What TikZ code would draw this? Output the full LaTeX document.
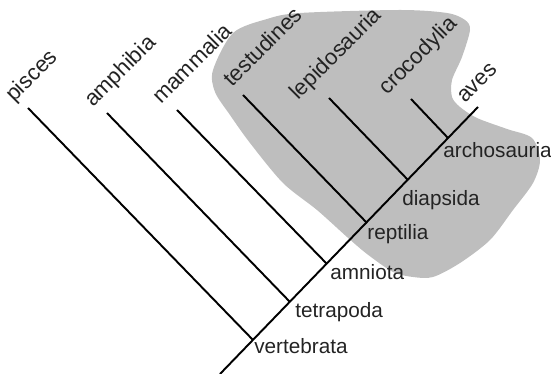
\documentclass[tikz,border=0pt]{standalone}
\usepackage{fontspec}
\setmainfont{Liberation Sans}
\usepackage{xcolor}
\usepackage{tikz}
\definecolor{blobgray}{RGB}{190,190,190}
\definecolor{labelgray}{RGB}{35,35,35}

\begin{document}
\begin{tikzpicture}[
    x=0.02cm, y=-0.02cm,
    branch/.style={line width=1.1pt, draw=black},
    taxon/.style={rotate=45, anchor=base west, inner sep=0pt, text=labelgray, font=\fontsize{12.6}{15}\selectfont},
    clade/.style={anchor=base west, inner sep=0pt, text=labelgray, font=\fontsize{11.8}{14}\selectfont},
]
    \useasboundingbox (0,0) rectangle (551,374);

    % shaded sauropsid region
    \fill[blobgray] plot[smooth cycle, tension=0.5] coordinates {
        (215,92) (213,70) (233,33) (267,19) (300,13) (400,10) (447,13)
        (465,20) (470,30) (462,57) (452,80) (452,97) (460,107) (477,118)
        (507,129) (532,138) (540,160) (533,183) (513,210) (490,240)
        (460,263) (433,277) (413,277) (393,272) (367,254) (347,237)
        (317,210) (283,183) (250,143) (230,115)};

    % trunk
    \coordinate (root) at (220,374);
    \coordinate (vertebrata) at (253,340);
    \coordinate (tetrapoda) at (290,302);
    \coordinate (amniota) at (327,264);
    \coordinate (reptilia) at (367,223);
    \coordinate (diapsida) at (408,180);
    \coordinate (archosauria) at (448,138);
    \coordinate (aves) at (478,107);

    % leaf tips
    \coordinate (pisces) at (28,108);
    \coordinate (amphibia) at (107,113);
    \coordinate (mammalia) at (177,110);
    \coordinate (testudines) at (243,95);
    \coordinate (lepidosauria) at (329,98);
    \coordinate (crocodylia) at (411,99);

    \draw[branch] (root) -- (aves);
    \draw[branch] (pisces) -- (vertebrata);
    \draw[branch] (amphibia) -- (tetrapoda);
    \draw[branch] (mammalia) -- (amniota);
    \draw[branch] (testudines) -- (reptilia);
    \draw[branch] (lepidosauria) -- (diapsida);
    \draw[branch] (crocodylia) -- (archosauria);

    % taxon names
    \node[taxon] (piscesL) at (14,103) {pisces};
    \node[taxon] (amphibiaL) at (93,108) {amphibia};
    \node[taxon] (mammaliaL) at (161,105) {mammalia};
    \node[taxon] (testudinesL) at (232,88) {testudines};
    \node[taxon] (lepidosauriaL) at (298,101) {lepidosauria};
    \node[taxon] (crocodyliaL) at (387,96) {crocodylia};
    \node[taxon] (avesL) at (465,104) {aves};

    % clade names
    \node[clade] (vertebrataL) at (254,354) {vertebrata};
    \node[clade] (tetrapodaL) at (295,318) {tetrapoda};
    \node[clade] (amniotaL) at (330,280) {amniota};
    \node[clade] (reptiliaL) at (367,240) {reptilia};
    \node[clade] (diapsidaL) at (402,206) {diapsida};
    \node[clade] (archosauriaL) at (443,158) {archosauria};
\end{tikzpicture}
\end{document}
